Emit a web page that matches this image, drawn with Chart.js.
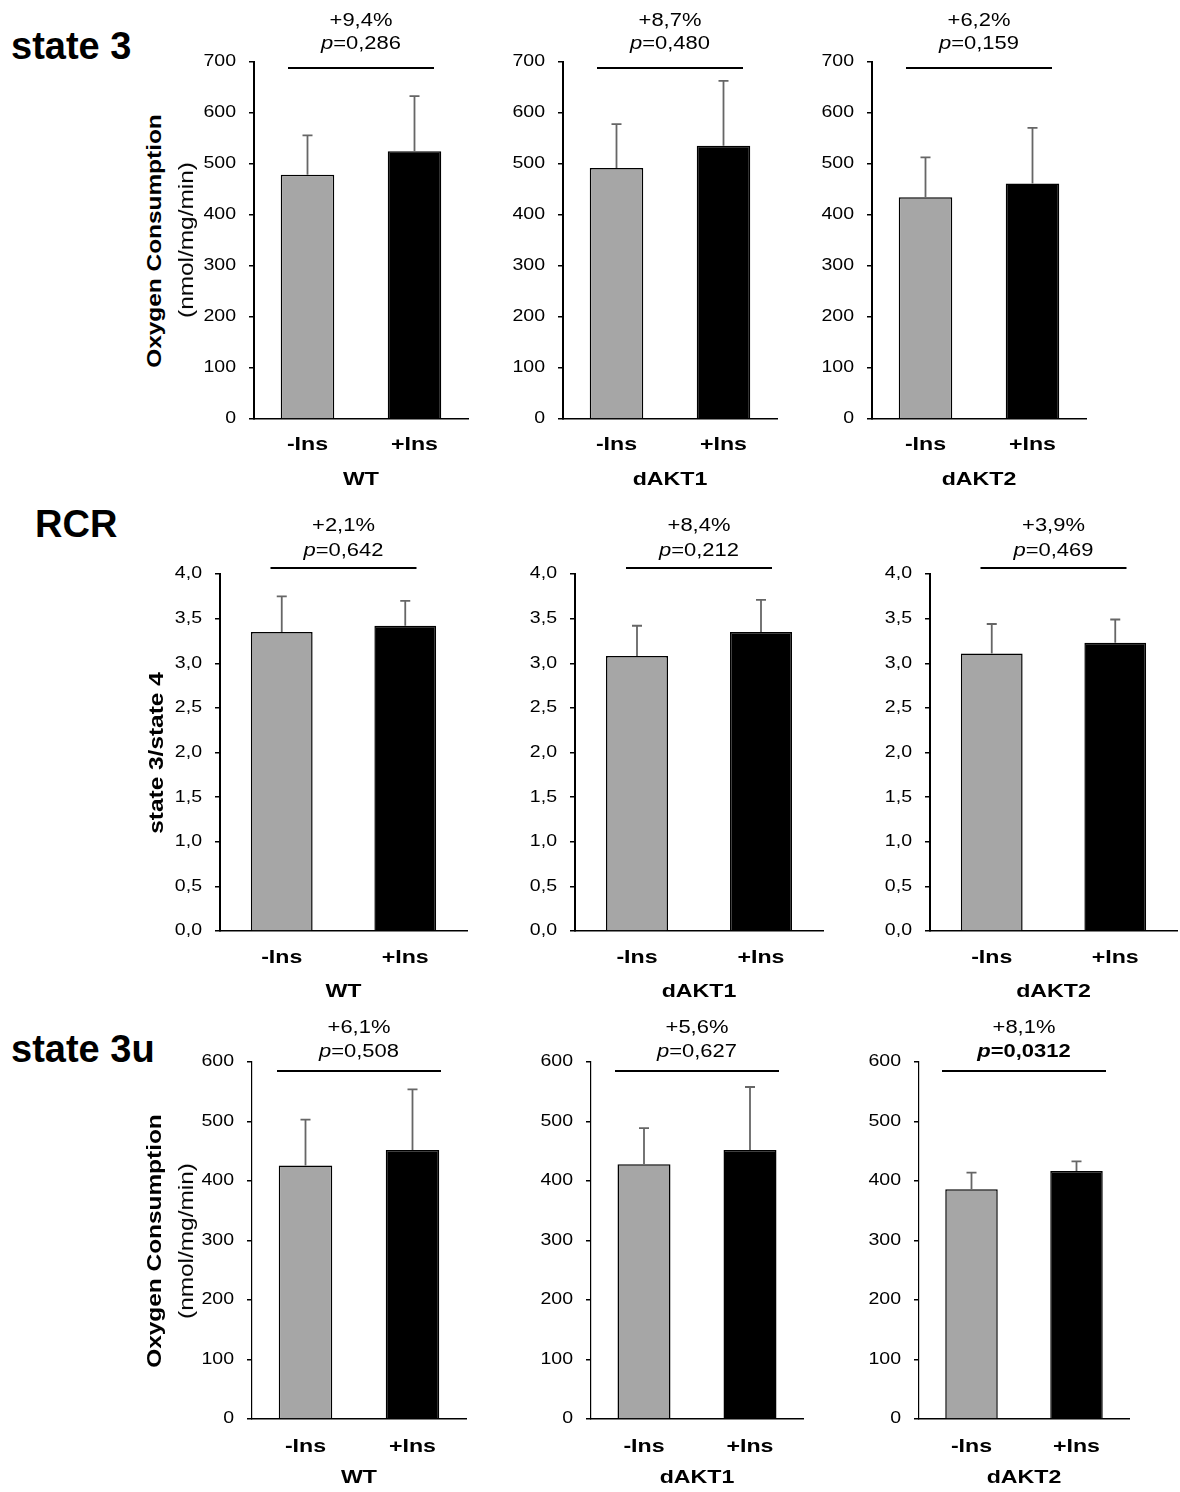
<!DOCTYPE html>
<html><head><meta charset="utf-8">
<script src="https://cdn.jsdelivr.net/npm/chart.js@4.4.1/dist/chart.umd.min.js"></script>
<style>
html,body{margin:0;padding:0;background:#fff;width:1180px;height:1492px;overflow:hidden;}
#page{position:relative;width:1180px;height:1492px;font-family:"Liberation Sans",Arial,sans-serif;color:#000;overflow:hidden;}
canvas{position:absolute;}
.rowtitle{position:absolute;font-weight:bold;font-size:38px;line-height:1;white-space:nowrap;}
.ytitle{position:absolute;font-size:20px;line-height:1;white-space:nowrap;transform:translate(-50%,-50%) rotate(-90deg) scaleX(1.22);}
</style></head><body><div id="page"></div>
<script>
// ---------------- data ----------------
const conditions = ['-Ins', '+Ins'];
const genotypes = ['WT', 'dAKT1', 'dAKT2'];

const state3Mean = [[479, 525], [492, 536], [435, 462]];
const state3Err  = [[77, 108], [86, 127], [78, 109]];
const state3Change = ['+9,4%', '+8,7%', '+6,2%'];
const state3P = ['0,286', '0,480', '0,159'];
const state3Sig = [false, false, false];

const rcrMean = [[3.35, 3.42], [3.08, 3.35], [3.11, 3.23]];
const rcrErr  = [[0.40, 0.28], [0.34, 0.36], [0.33, 0.26]];
const rcrChange = ['+2,1%', '+8,4%', '+3,9%'];
const rcrP = ['0,642', '0,212', '0,469'];
const rcrSig = [false, false, false];

const state3uMean = [[426, 452], [428, 452], [386, 417]];
const state3uErr  = [[77, 102], [61, 106], [28, 16]];
const state3uChange = ['+6,1%', '+5,6%', '+8,1%'];
const state3uP = ['0,508', '0,627', '0,0312'];
const state3uSig = [false, false, true];

const state3Ticks = [0, 100, 200, 300, 400, 500, 600, 700];
const rcrTicks = [0, 0.5, 1, 1.5, 2, 2.5, 3, 3.5, 4];
const state3uTicks = [0, 100, 200, 300, 400, 500, 600];

const rowTitles = ['state 3', 'RCR', 'state 3u'];

// ---------------- text width stretch (matches the wide lettering of the figure) ----------------
const S = 1.22;
(function(){
  const p = CanvasRenderingContext2D.prototype;
  const f = p.fillText, m = p.measureText;
  p.fillText = function(t, x, y){ this.save(); this.translate(x, y); this.scale(S, 1); f.call(this, t, 0, 0); this.restore(); };
  p.measureText = function(t){
    const r = m.call(this, t);
    return {width: r.width * S,
      actualBoundingBoxAscent: r.actualBoundingBoxAscent, actualBoundingBoxDescent: r.actualBoundingBoxDescent,
      actualBoundingBoxLeft: r.actualBoundingBoxLeft * S, actualBoundingBoxRight: r.actualBoundingBoxRight * S,
      fontBoundingBoxAscent: r.fontBoundingBoxAscent, fontBoundingBoxDescent: r.fontBoundingBoxDescent};
  };
})();

Chart.defaults.font.family = '"Liberation Sans", Arial, sans-serif';
Chart.defaults.color = '#000';

// ---------------- layout ----------------
const PADT = 60, YW = 70, XH = 80;
const rows = [
  {mean: state3Mean, err: state3Err, change: state3Change, p: state3P, sig: state3Sig, ticks: state3Ticks, dec: 0,
   top: 62, bottom: 419, lefts: [254, 563, 872], widths: [214, 214, 214], yBorder: 2,
   bracketDy: 6, half: 73, pDy: -18, changeDy: -41, tickPad: 14, titleY: 480},
  {mean: rcrMean, err: rcrErr, change: rcrChange, p: rcrP, sig: rcrSig, ticks: rcrTicks, dec: 1,
   top: 574, bottom: 931, lefts: [220, 575, 930], widths: [247, 248, 247], yBorder: 2,
   bracketDy: -6, half: 73, pDy: -23, changeDy: -48, tickPad: 15, titleY: 992},
  {mean: state3uMean, err: state3uErr, change: state3uChange, p: state3uP, sig: state3uSig, ticks: state3uTicks, dec: 0,
   top: 1062, bottom: 1419, lefts: [252, 591, 919], widths: [214, 212, 210], yBorder: 1.2,
   bracketDy: 9, half: 82, pDy: -10, changeDy: -34, tickPad: 16, titleY: 1478}
];

const fmt = (v, d) => d ? v.toFixed(d).replace('.', ',') : String(Math.round(v));

// ---------------- plugins ----------------
const errorBars = {
  id: 'errorBars',
  afterDatasetsDraw(chart, args, o) {
    const ctx = chart.ctx, y = chart.scales.y, ds = chart.data.datasets[0];
    const meta = chart.getDatasetMeta(0);
    ctx.save();
    ctx.strokeStyle = '#666666'; ctx.lineWidth = 1.8;
    meta.data.forEach((bar, i) => {
      const v = ds.data[i], e = ds.errors[i];
      const y0 = y.getPixelForValue(v), y1 = y.getPixelForValue(v + e);
      ctx.beginPath();
      ctx.moveTo(bar.x, y0); ctx.lineTo(bar.x, y1);
      ctx.moveTo(bar.x - 5, y1); ctx.lineTo(bar.x + 5, y1);
      ctx.stroke();
    });
    ctx.restore();
  }
};

const sigBracket = {
  id: 'sigBracket',
  afterDraw(chart, args, o) {
    const ctx = chart.ctx, ca = chart.chartArea;
    const meta = chart.getDatasetMeta(0);
    const cx = (meta.data[0].x + meta.data[1].x) / 2;
    const by = ca.top + o.dy;
    ctx.save();
    ctx.strokeStyle = '#000'; ctx.lineWidth = 2;
    ctx.beginPath(); ctx.moveTo(cx - o.half, by); ctx.lineTo(cx + o.half, by); ctx.stroke();
    ctx.fillStyle = '#000'; ctx.textBaseline = 'middle'; ctx.textAlign = 'left';
    const fam = '18px "Liberation Sans", Arial, sans-serif';
    ctx.font = fam;
    const cw = ctx.measureText(o.change).width;
    ctx.fillText(o.change, cx - cw / 2, ca.top + o.changeDy);
    const w = o.sig ? 'bold ' : '';
    const f1 = 'italic ' + w + fam, f2 = w + fam;
    const rest = '=' + o.p;
    ctx.font = f1; const w1 = ctx.measureText('p').width;
    ctx.font = f2; const w2 = ctx.measureText(rest).width;
    const x0 = cx - (w1 + w2) / 2, py = ca.top + o.pDy;
    ctx.font = f1; ctx.fillText('p', x0, py);
    ctx.font = f2; ctx.fillText(rest, x0 + w1, py);
    ctx.restore();
  }
};

// ---------------- build ----------------
const page = document.getElementById('page');

rows.forEach((r, ri) => {
  genotypes.forEach((g, gi) => {
    const L = r.lefts[gi], W = r.widths[gi];
    const padR = (L + W + 10 > 1180) ? 2 : 10;
    const cv = document.createElement('canvas');
    const cw = YW + W + padR, chh = PADT + (r.bottom - r.top) + XH;
    cv.width = cw; cv.height = chh;
    cv.style.left = (L - YW) + 'px'; cv.style.top = (r.top - PADT) + 'px';
    cv.style.width = cw + 'px'; cv.style.height = chh + 'px';
    page.appendChild(cv);
    const yMax = r.ticks[r.ticks.length - 1];
    const yStep = r.ticks[1] - r.ticks[0];
    const titlePad = (r.bottom + XH) - r.titleY - 11.4;
    new Chart(cv, {
      type: 'bar',
      data: {
        labels: conditions,
        datasets: [{
          data: r.mean[gi],
          errors: r.err[gi],
          backgroundColor: ['#a6a6a6', '#000000'],
          borderColor: '#000',
          borderWidth: 1.5,
          categoryPercentage: 1,
          barPercentage: 0.5
        }]
      },
      options: {
        responsive: false, animation: false, devicePixelRatio: 1,
        events: [],
        layout: {padding: {top: PADT, left: 0, right: padR, bottom: 0}},
        plugins: {
          legend: {display: false}, tooltip: {enabled: false},
          sigBracket: {dy: r.bracketDy, half: r.half, pDy: r.pDy, changeDy: r.changeDy,
                       change: r.change[gi], p: r.p[gi], sig: r.sig[gi]}
        },
        scales: {
          x: {
            type: 'category', offset: true,
            grid: {display: false, drawTicks: false},
            border: {display: true, color: '#000', width: 1.5},
            ticks: {color: '#000', font: {size: 19, weight: 'bold'}, padding: r.tickPad, maxRotation: 0, autoSkip: false},
            title: {display: true, text: g, color: '#000', font: {size: 19, weight: 'bold'}, padding: {top: 0, bottom: titlePad}},
            afterFit(s) { s.height = XH; }
          },
          y: {
            min: 0, max: yMax,
            grid: {drawOnChartArea: false, drawTicks: true, tickLength: 5, color: '#000', lineWidth: 1.5},
            border: {display: true, color: '#000', width: r.yBorder},
            ticks: {stepSize: yStep, color: '#000', font: {size: 16}, padding: 13,
                    callback: v => fmt(v, r.dec)},
            afterFit(s) { s.width = YW; }
          }
        }
      },
      plugins: [errorBars, sigBracket]
    });
  });
});

// row titles
const rowTitlePos = [[11, 27], [35, 505], [11, 1030]];
rowTitles.forEach((t, i) => {
  const d = document.createElement('div');
  d.className = 'rowtitle'; d.textContent = t;
  d.style.left = rowTitlePos[i][0] + 'px'; d.style.top = rowTitlePos[i][1] + 'px';
  page.appendChild(d);
});

// y-axis titles
function ytitle(text, cx, cy, bold) {
  const d = document.createElement('div');
  d.className = 'ytitle'; d.textContent = text;
  d.style.left = cx + 'px'; d.style.top = cy + 'px';
  d.style.fontWeight = bold ? 'bold' : 'normal';
  page.appendChild(d);
}
ytitle('Oxygen Consumption', 154, 241, true);
ytitle('(nmol/mg/min)', 186, 240, false);
ytitle('state 3/state 4', 156, 753, true);
ytitle('Oxygen Consumption', 154, 1241, true);
ytitle('(nmol/mg/min)', 186, 1241, false);
</script>
</body></html>
